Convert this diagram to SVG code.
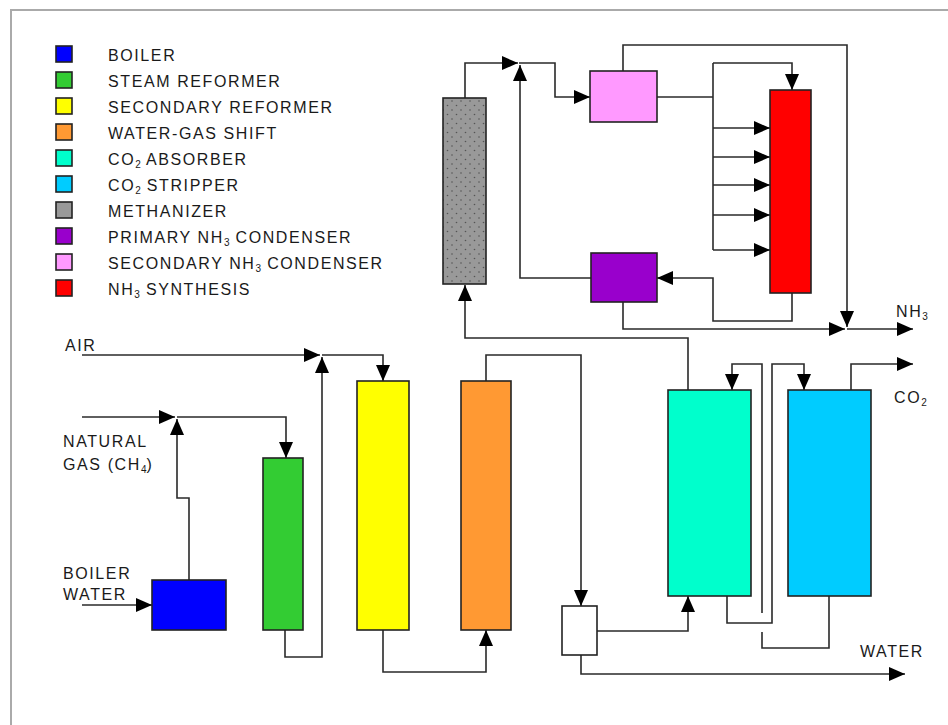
<svg xmlns="http://www.w3.org/2000/svg" width="948" height="725" viewBox="0 0 948 725">
<style>
text{font-family:"Liberation Sans",Arial,sans-serif;font-size:16px;fill:#1a1a1a;letter-spacing:1.6px}
.sub{font-size:10px;letter-spacing:0}
.box{stroke:#222;stroke-width:1.6}
.c{fill:none;stroke:#2a2a2a;stroke-width:1.6}
.a{marker-end:url(#ah)}
</style>
<defs>
<marker id="ah" markerUnits="userSpaceOnUse" markerWidth="16" markerHeight="14" refX="16" refY="7" orient="auto">
<path d="M0,0 L16,7 L0,14 z" fill="#000"/>
</marker>
<pattern id="dots" patternUnits="userSpaceOnUse" width="9" height="9">
<rect width="9" height="9" fill="#999"/>
<circle cx="2" cy="2" r="0.8" fill="#555"/>
<circle cx="6.5" cy="6.5" r="0.8" fill="#555"/>
</pattern>
</defs>
<rect width="948" height="725" fill="#fff"/>
<path d="M11,725 V10 H948" fill="none" stroke="#aaa" stroke-width="2"/>

<g id="legend">
<g id="lg-boiler"><rect class="box" x="56" y="46" width="16" height="16" fill="#0000FF"/><text x="108" y="61">BOILER</text></g>
<g id="lg-steam"><rect class="box" x="56" y="72" width="16" height="16" fill="#33CC33"/><text x="108" y="87">STEAM REFORMER</text></g>
<g id="lg-secref"><rect class="box" x="56" y="98" width="16" height="16" fill="#FFFF00"/><text x="108" y="113">SECONDARY REFORMER</text></g>
<g id="lg-wgs"><rect class="box" x="56" y="124" width="16" height="16" fill="#FF9933"/><text x="108" y="139">WATER-GAS SHIFT</text></g>
<g id="lg-abs"><rect class="box" x="56" y="150" width="16" height="16" fill="#00FFCC"/><text x="108" y="165">CO<tspan class="sub" dy="3">2</tspan><tspan dy="-3"> ABSORBER</tspan></text></g>
<g id="lg-str"><rect class="box" x="56" y="176" width="16" height="16" fill="#00CCFF"/><text x="108" y="191">CO<tspan class="sub" dy="3">2</tspan><tspan dy="-3"> STRIPPER</tspan></text></g>
<g id="lg-meth"><rect class="box" x="56" y="202" width="16" height="16" fill="#999999"/><text x="108" y="217">METHANIZER</text></g>
<g id="lg-pri"><rect class="box" x="56" y="228" width="16" height="16" fill="#9900CC"/><text x="108" y="243">PRIMARY NH<tspan class="sub" dy="3">3</tspan><tspan dy="-3"> CONDENSER</tspan></text></g>
<g id="lg-sec"><rect class="box" x="56" y="254" width="16" height="16" fill="#FF99FF"/><text x="108" y="269">SECONDARY NH<tspan class="sub" dy="3">3</tspan><tspan dy="-3"> CONDENSER</tspan></text></g>
<g id="lg-syn"><rect class="box" x="56" y="280" width="16" height="16" fill="#FF0000"/><text x="108" y="295">NH<tspan class="sub" dy="3">3</tspan><tspan dy="-3"> SYNTHESIS</tspan></text></g>
</g>

<g id="connectors">
<path class="c a" d="M82,355 H320"/>
<path class="c a" d="M322,355 H383 V381"/>
<path class="c a" d="M285,630 V657 H322 V357"/>
<path class="c a" d="M82,417 H175"/>
<path class="c a" d="M177,417 H286 V458"/>
<path class="c a" d="M189,580 V498 H177 V419"/>
<path class="c a" d="M82,605 H152"/>
<path class="c a" d="M383,630 V672 H486 V630"/>
<path class="c a" d="M486,381 V355 H581 V606"/>
<path class="c a" d="M597,631 H688 V596"/>
<path class="c a" d="M581,655 V674 H905"/>
<path class="c a" d="M688,390 V338 H465 V285"/>
<path class="c a" d="M465,98 V63 H518"/>
<path class="c a" d="M519,63 H555 V97 H590"/>
<path class="c a" d="M591,278 H520 V65"/>
<path class="c a" d="M623,71 V45 H847 V327"/>
<path class="c" d="M657,97 H713"/>
<path class="c" d="M713,63 V250"/>
<path class="c a" d="M713,63 H792 V90"/>
<path class="c a" d="M713,128 H770"/>
<path class="c a" d="M713,157 H770"/>
<path class="c a" d="M713,185 H770"/>
<path class="c a" d="M713,215 H770"/>
<path class="c a" d="M713,250 H770"/>
<path class="c a" d="M792,293 V321 H713 V278 H657"/>
<path class="c a" d="M623,302 V329 H845"/>
<path class="c a" d="M847,329 H913"/>
<path class="c a" d="M851,390 V364 H913"/>
<path class="c" d="M829,596 V648 H762 V632"/>
<path class="c a" d="M762,613 V364 H732 V390"/>
<path class="c a" d="M727,596 V623 H772 V364 H804 V390"/>
</g>

<g id="boiler"><rect class="box" x="152" y="580" width="74" height="50" fill="#0000FF"/></g>
<g id="steam-reformer"><rect class="box" x="263" y="458" width="40" height="172" fill="#33CC33"/></g>
<g id="secondary-reformer"><rect class="box" x="357" y="381" width="52" height="249" fill="#FFFF00"/></g>
<g id="water-gas-shift"><rect class="box" x="461" y="381" width="50" height="249" fill="#FF9933"/></g>
<g id="separator"><rect class="box" x="562" y="606" width="35" height="49" fill="#FFFFFF"/></g>
<g id="co2-absorber"><rect class="box" x="668" y="390" width="83" height="206" fill="#00FFCC"/></g>
<g id="co2-stripper"><rect class="box" x="788" y="390" width="83" height="206" fill="#00CCFF"/></g>
<g id="methanizer"><rect class="box" x="443" y="98" width="43" height="186" fill="url(#dots)"/></g>
<g id="secondary-condenser"><rect class="box" x="590" y="71" width="67" height="51" fill="#FF99FF"/></g>
<g id="primary-condenser"><rect class="box" x="591" y="253" width="66" height="49" fill="#9900CC"/></g>
<g id="nh3-synthesis"><rect class="box" x="770" y="90" width="41" height="203" fill="#FF0000"/></g>

<g id="labels">
<text x="65" y="351">AIR</text>
<text x="63" y="447">NATURAL</text>
<text x="63" y="470">GAS (CH<tspan class="sub" dy="3">4</tspan><tspan dy="-3">)</tspan></text>
<text x="63" y="579">BOILER</text>
<text x="63" y="600">WATER</text>
<text x="896" y="317">NH<tspan class="sub" dy="3">3</tspan></text>
<text x="894" y="403">CO<tspan class="sub" dy="3">2</tspan></text>
<text x="860" y="657">WATER</text>
</g>
</svg>
